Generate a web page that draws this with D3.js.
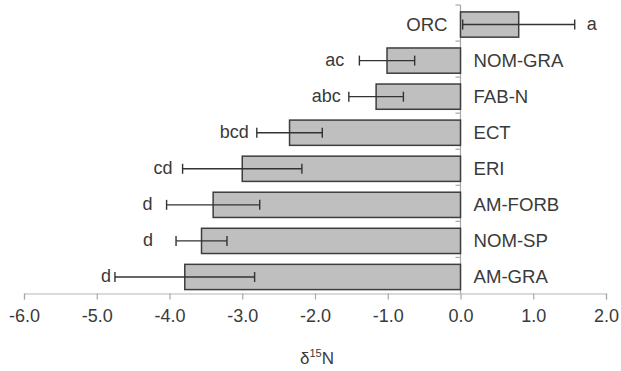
<!DOCTYPE html>
<html>
<head>
<meta charset="utf-8">
<script src="https://cdn.jsdelivr.net/npm/d3@7"></script>
<style>
  html, body { margin: 0; padding: 0; background: #fff; }
  svg { display: block; font-family: "Liberation Sans", Arial, sans-serif; }
</style>
</head>
<body>
<svg id="chart" width="621" height="371"></svg>
<script>
// ---- data ----
const categories = ["ORC", "NOM-GRA", "FAB-N", "ECT", "ERI", "AM-FORB", "NOM-SP", "AM-GRA"];
const means      = [0.80, -1.01, -1.16, -2.35, -3.00, -3.40, -3.56, -3.79];
const errors     = [0.77, 0.38, 0.375, 0.45, 0.82, 0.64, 0.35, 0.96];
const letters    = ["a", "ac", "abc", "bcd", "cd", "d", "d", "d"];
const xTicks     = [-6, -5, -4, -3, -2, -1, 0, 1, 2];
// layout: pixel gap between error-bar cap and significance letter
const letterGap  = [12, 15, 8, 8, 10, 14, 23, 4];

const svg = d3.select("#chart");
const textColor = "#3a3a3a";

const x = d3.scaleLinear().domain([-6, 2]).range([24, 606]);
const axisY = 293.5;
const yBars = d3.scaleBand().domain(categories).range([6.5, 295]).paddingInner(0.3).paddingOuter(0.15);
const yBands = d3.scaleBand().domain(categories).range([5, axisY]).padding(0);

// x axis
const xAxis = d3.axisBottom(x).tickValues(xTicks).tickFormat(d3.format(".1f")).tickSize(6).tickPadding(10);
const gx = svg.append("g").attr("transform", `translate(0,${axisY})`).call(xAxis);
gx.select(".domain").attr("stroke", "#b5b5b5").attr("stroke-width", 1.2);
gx.selectAll(".tick line").attr("stroke", "#a8a8a8").attr("stroke-width", 1.2);
gx.selectAll(".tick text").attr("fill", textColor).style("font-size", "18px")
  .style("font-family", "'Liberation Sans', Arial, sans-serif")
  .text(d => d3.format(".1f")(d).replace("−", "-"));

// vertical axis at 0 with minor boundary ticks
svg.append("line").attr("x1", x(0)).attr("x2", x(0)).attr("y1", 5).attr("y2", axisY)
  .attr("stroke", "#a8a8a8").attr("stroke-width", 1.2);
svg.selectAll(".vtick").data(categories).join("line")
  .attr("x1", x(0) - 5).attr("x2", x(0))
  .attr("y1", d => yBands(d)).attr("y2", d => yBands(d))
  .attr("stroke", "#a8a8a8").attr("stroke-width", 1.2);

const rows = categories.map((c, i) => ({ c, m: means[i], e: errors[i], l: letters[i], g: letterGap[i] }));

// bars
svg.selectAll(".bar").data(rows).join("rect")
  .attr("x", d => x(Math.min(0, d.m)))
  .attr("width", d => Math.abs(x(d.m) - x(0)))
  .attr("y", d => yBars(d.c))
  .attr("height", yBars.bandwidth())
  .attr("fill", "#bfbfbf")
  .attr("stroke", "#3d3d3d")
  .attr("stroke-width", 1.5);

// error bars
const eb = svg.selectAll(".err").data(rows).join("g")
  .attr("transform", d => `translate(0,${yBars(d.c) + yBars.bandwidth() / 2})`);
eb.append("line")
  .attr("x1", d => x(d.m - d.e)).attr("x2", d => x(d.m + d.e))
  .attr("stroke", "#333").attr("stroke-width", 1.4);
eb.append("line")
  .attr("x1", d => x(d.m - d.e)).attr("x2", d => x(d.m - d.e))
  .attr("y1", -5).attr("y2", 5)
  .attr("stroke", "#333").attr("stroke-width", 1.4);
eb.append("line")
  .attr("x1", d => x(d.m + d.e)).attr("x2", d => x(d.m + d.e))
  .attr("y1", -5).attr("y2", 5)
  .attr("stroke", "#333").attr("stroke-width", 1.4);

// letters
eb.append("text")
  .attr("x", d => d.m >= 0 ? x(d.m + d.e) + d.g : x(d.m - d.e) - d.g)
  .attr("y", -1)
  .attr("dy", "0.35em")
  .attr("text-anchor", d => d.m >= 0 ? "start" : "end")
  .attr("fill", textColor)
  .style("font-size", "18px")
  .text(d => d.l);

// category labels
eb.append("text")
  .attr("x", d => d.m >= 0 ? x(0) - 13 : x(0) + 13)
  .attr("y", 0)
  .attr("dy", "0.35em")
  .attr("text-anchor", d => d.m >= 0 ? "end" : "start")
  .attr("fill", textColor)
  .style("font-size", "18.6px")
  .text(d => d.c);

// axis title
const title = svg.append("text")
  .attr("x", 317).attr("y", 364)
  .attr("text-anchor", "middle")
  .attr("fill", textColor)
  .style("font-size", "17px");
title.append("tspan").text("δ");
title.append("tspan").attr("dy", -7).style("font-size", "11px").text("15");
title.append("tspan").attr("dy", 7).text("N");
</script>
</body>
</html>
